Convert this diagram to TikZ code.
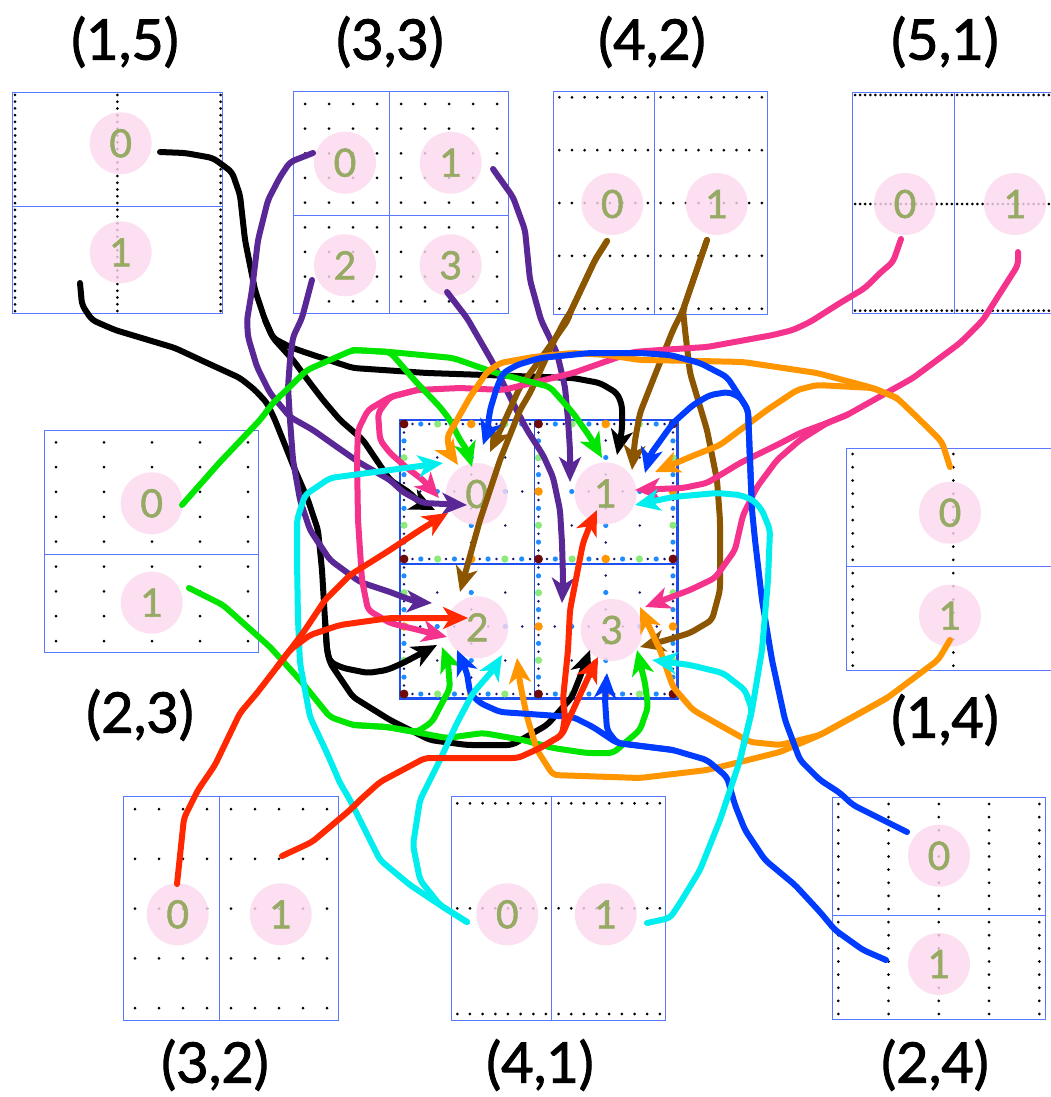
\documentclass[tikz,border=0pt]{standalone}
\usepackage{fontspec}
\setmainfont{Lato}
\newfontfamily\heavyfont{Lato}[FakeBold=1.6]
\newfontfamily\digfont{Lato}[FakeBold=1.4]
\usetikzlibrary{arrows.meta}
\definecolor{bx}{RGB}{90,120,255}
\definecolor{cbx}{RGB}{30,80,240}
\definecolor{cfill}{RGB}{252,218,240}
\definecolor{cdig}{RGB}{150,170,100}
\definecolor{dred}{RGB}{110,10,10}
\definecolor{dgreen}{RGB}{140,235,120}
\definecolor{dorange}{RGB}{255,150,0}
\definecolor{dblue}{RGB}{30,140,255}
\definecolor{dnavy}{RGB}{20,20,110}
\definecolor{kpurple}{RGB}{90,40,150}
\definecolor{kbrown}{RGB}{140,85,0}
\definecolor{kpink}{RGB}{245,50,140}
\definecolor{kgreen}{RGB}{0,230,0}
\definecolor{korange}{RGB}{255,150,0}
\definecolor{kblue}{RGB}{0,60,255}
\definecolor{kcyan}{RGB}{0,238,238}
\definecolor{kred}{RGB}{255,40,0}
\tikzset{
  boxline/.style={draw=bx, line width=1pt},
  rank/.style={circle, fill=cfill, fill opacity=0.82, text opacity=1, minimum size=62pt, inner sep=0pt, text=cdig, font=\digfont\fontsize{39}{40}\selectfont},
  lbl/.style={font=\heavyfont\fontsize{56}{60}\selectfont, text=black},
  ln/.style={line width=6pt, rounded corners=5pt, line join=round, line cap=round, -{Stealth[length=25pt,width=22pt,inset=7pt]}},
}
\begin{document}
\begin{tikzpicture}[x=1pt,y=-1pt]
\useasboundingbox (0,0) rectangle (1050,1097);
\fill[white] (0,0) rectangle (1050,1097);
% ---------- boxes ----------
% (1,5)
\draw[boxline] (12.7,92.7) rectangle (222.7,313.3);
\draw[boxline] (12.7,206.7) -- (222.7,206.7);
\foreach \x in {15,117.3,220.7} \foreach \k in {0,...,32} \fill (\x,95+\k*6.75) circle (1.5);
% (3,3)
\draw[boxline] (293.3,92) rectangle (508.3,313.3);
\draw[boxline] (389,92) -- (389,313.3);
\draw[boxline] (293.3,215.7) -- (508.3,215.7);
\foreach \i in {0,...,8} \foreach \j in {0,...,8} \fill (305+\i*24,104+\j*24.66) circle (1.5);
% (4,2)
\draw[boxline] (553.3,91.7) rectangle (767.7,314.3);
\draw[boxline] (654.3,91.7) -- (654.3,314.3);
\foreach \i in {0,...,16} \foreach \j in {0,...,4} \fill (559.3+\i*12.66,97.3+\j*52.85) circle (1.5);
% (5,1)
\draw[boxline] (1058,92.7) -- (852.7,92.7) -- (852.7,313.3) -- (1058,313.3);
\draw[boxline] (954.3,92.7) -- (954.3,313.3);
\foreach \i in {0,...,38} \foreach \y in {95,204,310.7} \fill (855+\i*5.1,\y) circle (1.5);
% (2,3)
\draw[boxline] (44,430) rectangle (258.3,652.7);
\draw[boxline] (44,554) -- (258.3,554);
\foreach \i in {0,...,4} \foreach \j in {0,...,8} \fill (56+\i*48,442.3+\j*24.84) circle (1.5);
% (1,4)
\draw[boxline] (1058,448.3) -- (846.7,448.3) -- (846.7,670.7) -- (1058,670.7);
\draw[boxline] (846.7,566.3) -- (1058,566.3);
\foreach \x in {852.7,953.3} \foreach \j in {0,...,16} \fill (\x,454+\j*13.23) circle (1.5);
% (3,2)
\draw[boxline] (123.3,796.7) rectangle (338.3,1020);
\draw[boxline] (219,796.7) -- (219,1020);
\foreach \i in {0,...,8} \foreach \j in {0,...,4} \fill (135+\i*24,809+\j*49.8) circle (1.5);
% (4,1)
\draw[boxline] (451,796.7) rectangle (665,1020);
\draw[boxline] (551.3,796.7) -- (551.3,1020);
\foreach \i in {0,...,16} \foreach \y in {803.3,908.3,1014} \fill (457.3+\i*12.66,\y) circle (1.5);
% (2,4)
\draw[boxline] (832.7,797.3) rectangle (1045.3,1019.3);
\draw[boxline] (832.7,915) -- (1045.3,915);
\foreach \i in {0,...,4} \foreach \j in {0,...,16} \fill (838.3+\i*50.25,804+\j*13.125) circle (1.5);
% ---------- centre grid ----------
\draw[cbx, line width=2.6pt] (400,420) rectangle (677.3,698.7);
\draw[cbx, line width=1.4pt] (534.3,420) -- (534.3,698.7);
\draw[cbx, line width=1.4pt] (400,564) -- (677.3,564);
\foreach \k in {0,...,32}{
  \pgfmathtruncatemacro\m{mod(\k,16)}
  \pgfmathtruncatemacro\e{mod(\k,2)}
  \ifnum\m=0 \def\dc{dred}\def\dr{4.3}\else
  \ifnum\m=8 \def\dc{dorange}\def\dr{4.3}\else
  \ifnum\m=4 \def\dc{dgreen}\def\dr{3.6}\else
  \ifnum\m=12 \def\dc{dgreen}\def\dr{3.6}\else
  \ifnum\e=0 \def\dc{dblue}\def\dr{2.6}\else
  \def\dc{dnavy}\def\dr{1.4}\fi\fi\fi\fi\fi
  \foreach \x in {404,538.5,673} \fill[\dc] (\x,424+\k*8.4375) circle (\dr);
  \foreach \y in {424,559,694} \fill[\dc] (404+\k*8.40625,\y) circle (\dr);
}
\foreach \cx/\cy in {471.25/491.5,605.75/491.5,471.25/626.5,605.75/626.5}{
  \foreach \dx/\dy in {0/-17,0/17,-17/0,17/0,0/-51,0/51,-51/0,51/0,-34/-34,34/-34,-34/34,34/34}
    \fill[dnavy] (\cx+\dx,\cy+\dy) circle (1.4);
  \foreach \dx/\dy in {0/-34,0/34,-34/0,34/0}
    \fill[dblue] (\cx+\dx,\cy+\dy) circle (2.6);
}
% ---------- rank circles ----------
\node[rank] (a0) at (120.7,143.3) {0};
\node[rank] (a1) at (120.7,252.3) {1};
\node[rank] (b0) at (345,162.7) {0};
\node[rank] (b1) at (450.7,162.7) {1};
\node[rank] (b2) at (345,265.3) {2};
\node[rank] (b3) at (450.7,265.3) {3};
\node[rank] (c0) at (612.3,204) {0};
\node[rank] (c1) at (716.7,204) {1};
\node[rank] (d0) at (905,204) {0};
\node[rank] (d1) at (1015,204) {1};
\node[rank] (e0) at (151.7,503.3) {0};
\node[rank] (e1) at (151.7,602.7) {1};
\node[rank] (f0) at (950,512.7) {0};
\node[rank] (f1) at (950,615.7) {1};
\node[rank] (g0) at (177.7,914.3) {0};
\node[rank] (g1) at (280.7,914.3) {1};
\node[rank] (h0) at (507.3,914.3) {0};
\node[rank] (h1) at (605.7,914.3) {1};
\node[rank] (i0) at (939,855.7) {0};
\node[rank] (i1) at (939,964) {1};
\node[rank] (m0) at (476.7,494) {0};
\node[rank] (m1) at (605.5,493.3) {1};
\node[rank] (m2) at (477.3,627.3) {2};
\node[rank] (m3) at (611.7,630) {3};
% ---------- labels ----------
\node[lbl] (l15) at (125,42) {(1,5)};
\node[lbl] (l33) at (390,42) {(3,3)};
\node[lbl] (l42) at (652,42) {(4,2)};
\node[lbl] (l51) at (945,42) {(5,1)};
\node[lbl] (l23) at (140,715) {(2,3)};
\node[lbl] (l14) at (945,720) {(1,4)};
\node[lbl] (l32) at (215,1065) {(3,2)};
\node[lbl] (l41) at (540,1065) {(4,1)};
\node[lbl] (l24) at (935,1065) {(2,4)};
% ---------- connectors ----------
% black
\draw[ln] (160,152) -- (185,153) -- (213,158) -- (232,172) -- (240,195) -- (245,240) -- (255,290) -- (265,320) -- (273,338) -- (290,347) -- (307,353) -- (353,368) -- (427,373) -- (573,378) -- (600,383) -- (617,393) -- (622,405) -- (622,430) -- (617,455);
\draw[ln] (265,320) -- (273,338) -- (293,360) -- (310,383) -- (323,400) -- (340,420) -- (363,440) -- (390,480) -- (410,493) -- (420,503) -- (435,510);
\draw[ln] (80,283) -- (82,305) -- (92,320) -- (115,330) -- (175,348) -- (205,362) -- (240,378) -- (255,390) -- (267,403) -- (275,420) -- (285,445) -- (295,470) -- (308,500) -- (318,530) -- (322,570) -- (325,620) -- (327,650) -- (330,662) -- (343,668) -- (368,673) -- (387,670) -- (403,663) -- (420,654) -- (437,645);
\draw[ln] (325,620) -- (327,650) -- (330,663) -- (353,697) -- (390,720) -- (430,740) -- (467,745) -- (512,745) -- (547,725) -- (572,697) -- (580,677) -- (590,650);
% purple
\draw[ln, kpurple] (313,153) -- (290,162) -- (280,177) -- (268,200) -- (258,240) -- (252,290) -- (247,320) -- (248,337) -- (257,367) -- (270,393) -- (290,417) -- (313,430) -- (337,447) -- (360,463) -- (390,480) -- (403,492) -- (423,503) -- (467,505);
\draw[ln, kpurple] (493,169) -- (513,197) -- (525,230) -- (530,280) -- (541,320) -- (557,353) -- (565,387) -- (568,420) -- (570,450) -- (570,482);
\draw[ln, kpurple] (312,280) -- (302,318) -- (293,337) -- (290,360) -- (288,387) -- (290,420) -- (293,460) -- (300,500) -- (310,530) -- (330,560) -- (360,582) -- (390,592) -- (403,597) -- (417,602) -- (432,603);
\draw[ln, kpurple] (447,292) -- (467,318) -- (493,363) -- (513,403) -- (527,430) -- (543,455) -- (553,477) -- (560,510) -- (562,543) -- (563,577) -- (562,603);
% brown
\draw[ln, kbrown] (607,241) -- (595,260) -- (570,313) -- (568,320) -- (547,350) -- (520,387) -- (505,420) -- (490,452);
\draw[ln, kbrown] (607,241) -- (595,260) -- (570,313) -- (565,320) -- (553,343) -- (530,393) -- (520,410) -- (500,460) -- (480,520) -- (460,592);
\draw[ln, kbrown] (707,240) -- (683,310) -- (673,330) -- (653,380) -- (640,413) -- (635,440) -- (632,470);
\draw[ln, kbrown] (707,240) -- (683,310) -- (685,330) -- (690,373) -- (707,430) -- (717,480) -- (720,520) -- (720,590) -- (712,620) -- (690,633) -- (667,640) -- (640,647);
% pink
\draw[ln, kpink] (901,239) -- (893,262) -- (880,273) -- (865,288) -- (840,303) -- (810,322) -- (793,330) -- (773,335) -- (707,347) -- (660,350) -- (633,352) -- (573,373) -- (503,390) -- (460,388) -- (417,390) -- (390,397) -- (378,413) -- (380,440) -- (390,453) -- (407,468) -- (423,480) -- (439,498);
\draw[ln, kpink] (417,390) -- (390,397) -- (368,410) -- (358,430) -- (357,460) -- (358,520) -- (362,580) -- (368,610) -- (390,623) -- (447,637);
\draw[ln, kpink] (1018,252) -- (1018,265) -- (983,320) -- (960,343) -- (913,378) -- (847,415) -- (827,423) -- (800,433) -- (777,445) -- (740,463) -- (707,483) -- (683,488) -- (635,490);
\draw[ln, kpink] (847,415) -- (827,423) -- (800,440) -- (777,460) -- (757,487) -- (743,515) -- (735,550) -- (715,578) -- (690,590) -- (645,607);
% green
\draw[ln, kgreen] (182,505) -- (220,462) -- (260,420) -- (273,403) -- (307,370) -- (353,350) -- (390,352) -- (417,383) -- (440,407) -- (450,420) -- (460,440) -- (467,450) -- (472,467);
\draw[ln, kgreen] (353,350) -- (390,352) -- (453,358) -- (493,372) -- (550,387) -- (573,413) -- (590,437) -- (602,458);
\draw[ln, kgreen] (189,588) -- (223,605) -- (270,647) -- (300,680) -- (330,717) -- (353,725) -- (387,727) -- (417,732) -- (432,722) -- (450,688) -- (448,663) -- (442,647);
\draw[ln, kgreen] (353,725) -- (387,727) -- (420,733) -- (447,738) -- (483,733) -- (523,740) -- (553,748) -- (587,753) -- (613,753) -- (640,730) -- (648,707) -- (645,683) -- (637,650);
% orange
\draw[ln, korange] (950,467) -- (942,442) -- (920,420) -- (897,398) -- (873,388) -- (817,373) -- (743,362) -- (700,361) -- (640,360) -- (607,355) -- (573,353) -- (533,357) -- (500,363) -- (487,372) -- (470,397) -- (453,427) -- (447,437) -- (450,453) -- (458,465);
\draw[ln, korange] (897,398) -- (873,388) -- (817,385) -- (797,390) -- (767,410) -- (720,445) -- (690,457) -- (655,472);
\draw[ln, korange] (950,640) -- (938,660) -- (887,698) -- (860,713) -- (820,735) -- (780,752) -- (740,762) -- (707,770) -- (640,778) -- (553,775) -- (537,750) -- (527,717) -- (520,683) -- (517,658);
\draw[ln, korange] (887,698) -- (860,713) -- (820,735) -- (780,745) -- (750,742) -- (723,727) -- (693,710) -- (673,687) -- (660,650) -- (653,635) -- (640,607);
% blue
\draw[ln, kblue] (907,832) -- (853,805) -- (840,793) -- (820,780) -- (800,760) -- (785,720) -- (772,660) -- (762,600) -- (755,540) -- (752,510) -- (748,410) -- (740,397) -- (727,377) -- (700,363) -- (670,355) -- (640,353) -- (590,353) -- (540,358) -- (517,365) -- (503,373) -- (497,387) -- (490,410) -- (487,433) -- (483,445);
\draw[ln, kblue] (752,510) -- (748,410) -- (740,397) -- (728,392) -- (710,395) -- (693,405) -- (673,423) -- (650,455) -- (645,473);
\draw[ln, kblue] (886,960) -- (863,950) -- (835,930) -- (820,912) -- (795,885) -- (765,860) -- (745,830) -- (735,805) -- (727,777) -- (707,760) -- (673,750) -- (617,743) -- (593,727) -- (573,717) -- (500,712) -- (480,703) -- (470,693) -- (467,673) -- (457,650);
\draw[ln, kblue] (673,750) -- (617,743) -- (607,730) -- (605,700) -- (607,673);
% cyan
\draw[ln, kcyan] (467,922) -- (440,905) -- (410,885) -- (380,860) -- (350,800) -- (340,783) -- (327,753) -- (310,717) -- (300,663) -- (298,620) -- (297,560) -- (297,520) -- (305,495) -- (330,478) -- (390,470) -- (443,463);
\draw[ln, kcyan] (467,922) -- (440,905) -- (420,880) -- (413,845) -- (420,800) -- (440,760) -- (457,723) -- (473,693) -- (493,670) -- (502,655);
\draw[ln, kcyan] (647,923) -- (670,918) -- (680,903) -- (700,870) -- (720,820) -- (740,760) -- (752,710) -- (762,650) -- (768,580) -- (770,530) -- (762,510) -- (753,500) -- (740,495) -- (717,493) -- (673,497) -- (635,505);
\draw[ln, kcyan] (740,760) -- (752,710) -- (745,690) -- (723,673) -- (690,665) -- (652,660);
% red
\draw[ln, kred] (177,884) -- (184,818) -- (198,790) -- (215,765) -- (240,713) -- (257,693) -- (277,667) -- (290,650) -- (310,635) -- (340,625) -- (390,618) -- (468,618);
\draw[ln, kred] (277,667) -- (290,650) -- (305,630) -- (325,600) -- (350,575) -- (390,550) -- (420,530) -- (448,513);
\draw[ln, kred] (282,856) -- (312,842) -- (350,810) -- (360,800) -- (380,782) -- (425,758) -- (518,758) -- (540,748) -- (562,735) -- (565,717) -- (563,699) -- (568,650) -- (570,610) -- (583,543) -- (590,525) -- (597,510);
\draw[ln, kred] (540,748) -- (562,735) -- (573,710) -- (593,667) -- (598,657);
\end{tikzpicture}
\end{document}
